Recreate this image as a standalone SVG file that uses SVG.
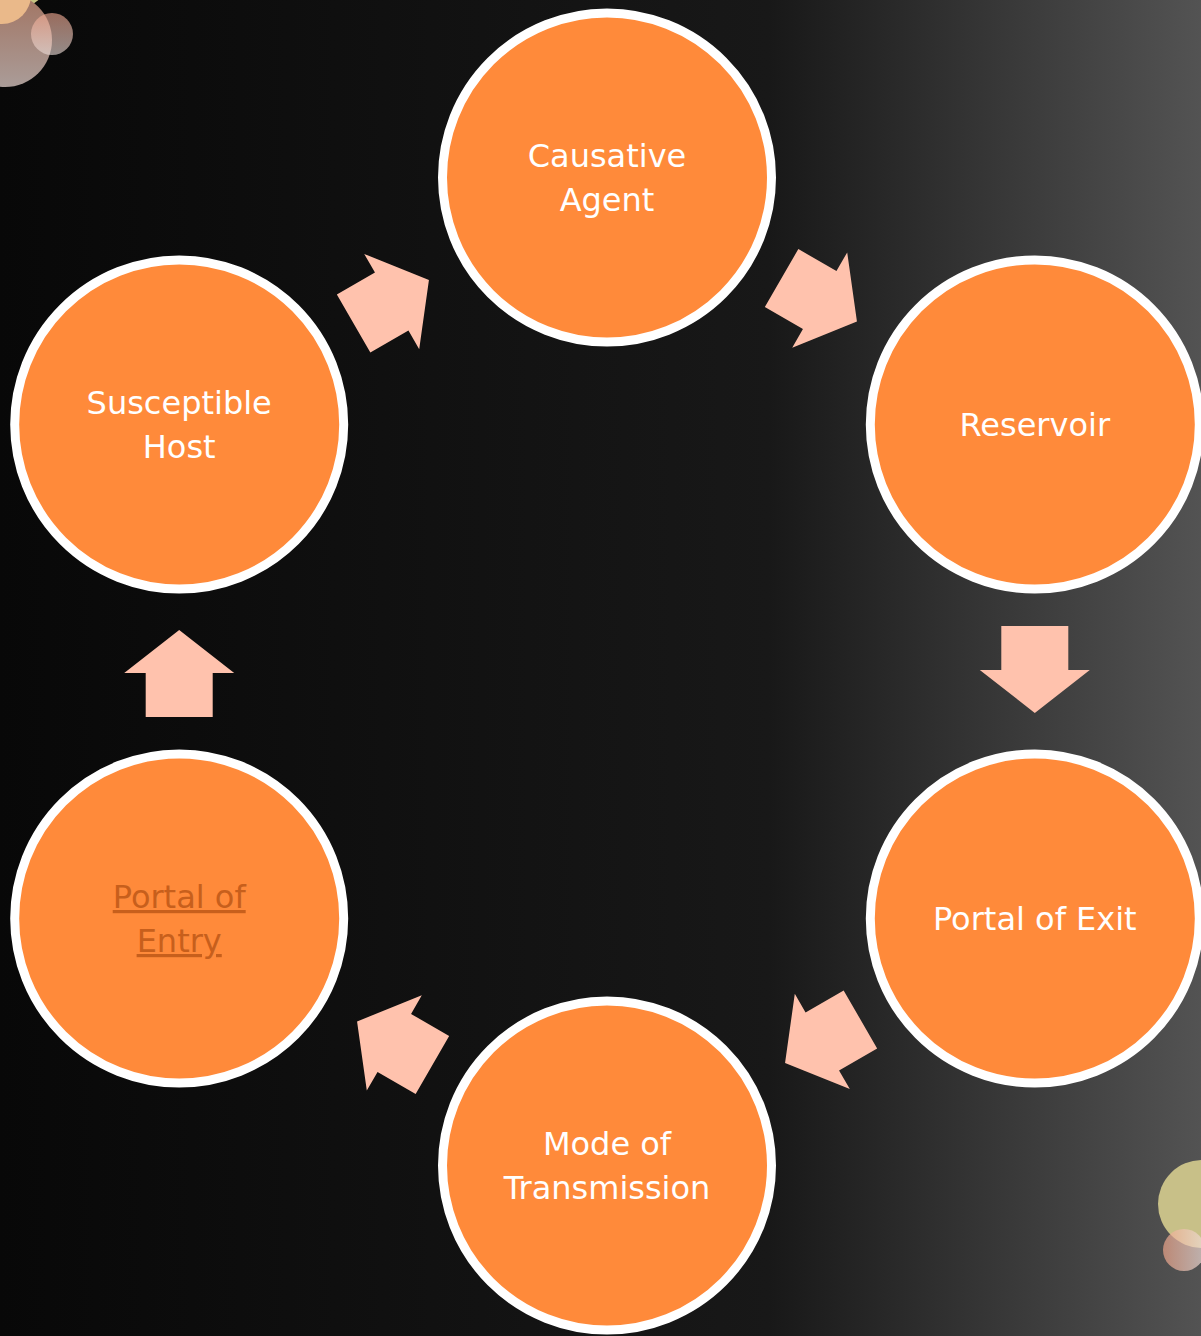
<svg xmlns="http://www.w3.org/2000/svg" width="1201" height="1336" viewBox="0 0 1201 1336">
  <defs>
    <linearGradient id="bg" x1="0" y1="0" x2="1" y2="0">
      <stop offset="0" stop-color="#080808"/>
      <stop offset="0.64" stop-color="#181818"/>
      <stop offset="1" stop-color="#535353"/>
    </linearGradient>
    <linearGradient id="brown" x1="0" y1="0" x2="0" y2="1">
      <stop offset="0" stop-color="#a27462"/>
      <stop offset="1" stop-color="#aa9c98"/>
    </linearGradient>
    <linearGradient id="pinkV" x1="0" y1="0" x2="0" y2="1">
      <stop offset="0" stop-color="#f2a890"/>
      <stop offset="1" stop-color="#eadcd8"/>
    </linearGradient>
    <linearGradient id="pinkH" x1="0" y1="0" x2="1" y2="0">
      <stop offset="0" stop-color="#f0a488"/>
      <stop offset="1" stop-color="#f0e0dc"/>
    </linearGradient>
    <polygon id="arrow" points="-33.5,-45.5 33.5,-45.5 33.5,-1.5 55,-1.5 0,41.5 -55,-1.5 -33.5,-1.5"/>
  </defs>
  <style>
    .node { fill: #FF8A3A; stroke: #FFFFFF; stroke-width: 9; }
    .lbl { font-family: "Comic Sans MS", "DejaVu Sans", sans-serif; font-size: 32px; fill: #FFFFFF; text-anchor: middle; }
    .link { fill: #C75F1C; text-decoration: underline; }
    .arr { fill: #FFC2AD; }
  </style>

  <rect x="0" y="0" width="1201" height="1336" fill="url(#bg)"/>

  <!-- decorative bubbles -->
  <g id="bubbles-top-left">
    <circle cx="12" cy="-30" r="40" fill="#c4c281"/>
    <circle cx="5" cy="40" r="47" fill="url(#brown)"/>
    <circle cx="2" cy="-5" r="29" fill="#eab98a"/>
    <circle cx="52" cy="34" r="21" fill="url(#pinkV)" opacity="0.62"/>
  </g>
  <g id="bubbles-bottom-right">
    <circle cx="1202" cy="1204" r="44" fill="#c8c088"/>
    <circle cx="1184" cy="1250" r="21" fill="url(#pinkH)" opacity="0.68"/>
  </g>

  <g id="connectors">
    <use href="#arrow" class="arr" transform="translate(821,300.8) rotate(300)"/>
    <use href="#arrow" class="arr" transform="translate(1034.8,671.5)"/>
    <use href="#arrow" class="arr" transform="translate(821,1042.2) rotate(60)"/>
    <use href="#arrow" class="arr" transform="translate(393,1042.2) rotate(120)"/>
    <use href="#arrow" class="arr" transform="translate(179.2,671.5) rotate(180)"/>
    <use href="#arrow" class="arr" transform="translate(393,300.8) rotate(240)"/>
  </g>

  <g id="causative-agent">
    <circle class="node" cx="607" cy="177.5" r="164.5"/>
    <text class="lbl" x="607" y="167">Causative</text>
    <text class="lbl" x="607" y="211">Agent</text>
  </g>
  <g id="reservoir">
    <circle class="node" cx="1034.8" cy="424.5" r="164.5"/>
    <text class="lbl" x="1034.8" y="436">Reservoir</text>
  </g>
  <g id="portal-of-exit">
    <circle class="node" cx="1034.8" cy="918.5" r="164.5"/>
    <text class="lbl" x="1034.8" y="930">Portal of Exit</text>
  </g>
  <g id="mode-of-transmission">
    <circle class="node" cx="607" cy="1165.5" r="164.5"/>
    <text class="lbl" x="607" y="1155">Mode of</text>
    <text class="lbl" x="607" y="1199">Transmission</text>
  </g>
  <g id="portal-of-entry">
    <circle class="node" cx="179.2" cy="918.5" r="164.5"/>
    <text class="lbl link" x="179.2" y="908">Portal of</text>
    <text class="lbl link" x="179.2" y="952">Entry</text>
  </g>
  <g id="susceptible-host">
    <circle class="node" cx="179.2" cy="424.5" r="164.5"/>
    <text class="lbl" x="179.2" y="414">Susceptible</text>
    <text class="lbl" x="179.2" y="458">Host</text>
  </g>
</svg>
